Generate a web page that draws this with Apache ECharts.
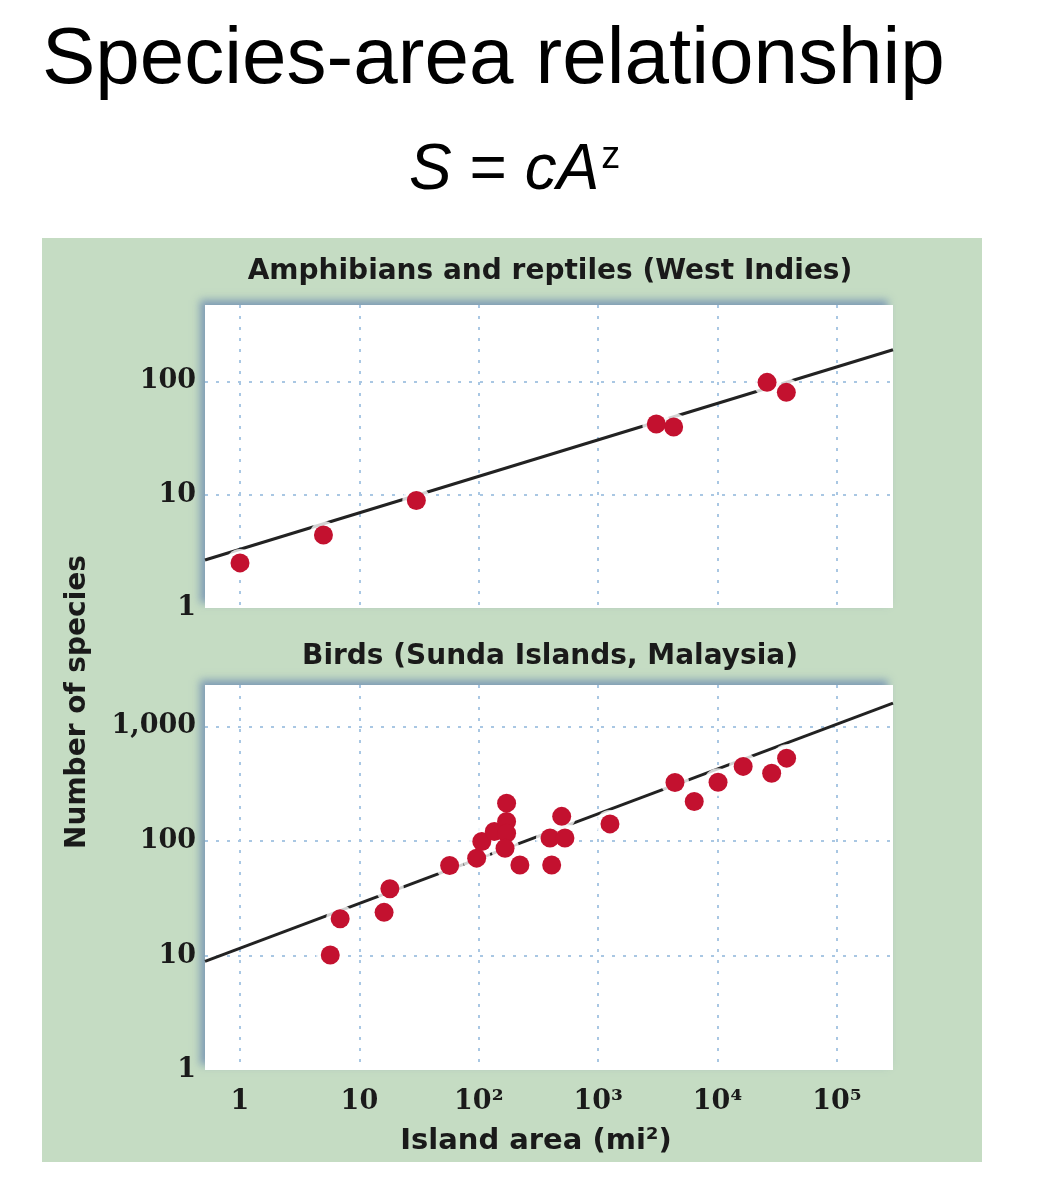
<!DOCTYPE html>
<html>
<head>
<meta charset="utf-8">
<script src="https://cdn.jsdelivr.net/npm/echarts@6/dist/echarts.min.js"></script>
<style>
  html, body { margin: 0; padding: 0; background: #ffffff; }
  #chart { width: 1053px; height: 1200px; }
</style>
</head>
<body>
<div id="chart"></div>
<script>
// ---------- Data ----------
// Top panel: Amphibians and reptiles (West Indies)
var amphibArea    = [1.0, 5.0, 30, 3070, 4290, 26000, 37700];
var amphibSpecies = [2.5, 4.4, 8.9, 42, 39.5, 98, 80];
// fitted line end points (top panel)
var amphibFitArea    = [0.509, 295000];
var amphibFitSpecies = [2.65, 190];

// Bottom panel: Birds (Sunda Islands, Malaysia)
var birdArea    = [5.7, 6.9, 16.1, 18.0, 57, 96, 106, 135, 171, 171, 171, 166, 221, 395, 408, 495, 527, 1256, 4400, 6380, 10100, 16400, 28400, 37900];
var birdSpecies = [10.1, 20.9, 23.8, 38.2, 61, 70.8, 99, 121, 214, 148, 117, 86.5, 61.8, 106, 61.8, 164, 106, 141, 324, 221, 326, 448, 391, 529];
// fitted line end points (bottom panel)
var birdFitArea    = [0.509, 295000];
var birdFitSpecies = [8.87, 1597];

// Tick labels
var xTickValues = [1, 10, 100, 1000, 10000, 100000];
var xTickLabels = ['1', '10', '10\u00B2', '10\u00B3', '10\u2074', '10\u2075'];
var yTickValues = [1, 10, 100, 1000];
var yTickLabels = ['1', '10', '100', '1,000'];

// Texts
var mainTitle = 'Species-area relationship';
var panelTitles = ['Amphibians and reptiles (West Indies)', 'Birds (Sunda Islands, Malaysia)'];
var yAxisTitle = 'Number of species';
var xAxisTitle = 'Island area (mi\u00B2)';

// ---------- Helpers ----------
function zip(a, b) { return a.map(function (v, i) { return [v, b[i]]; }); }
function lookup(values, labels) {
  return function (v) {
    for (var i = 0; i < values.length; i++) {
      if (Math.abs(Math.log10(v) - Math.log10(values[i])) < 1e-6) return labels[i];
    }
    return '';
  };
}

var gridColor = '#a9c7e3';
var red = '#c3112f';
var serifNum = '"DejaVu Serif", "Liberation Serif", serif';
var titleFont = '"DejaVu Sans", "Noto Sans", sans-serif';
var sansMain = '"Liberation Sans", Arial, sans-serif';

function makeX(gridIndex, showLabels) {
  return {
    type: 'log', logBase: 10, gridIndex: gridIndex,
    min: amphibFitArea[0], max: amphibFitArea[1],
    axisLine: { show: false }, axisTick: { show: false },
    splitLine: { show: true, showMinLine: false, showMaxLine: false,
      lineStyle: { color: gridColor, type: [3, 8], width: 2 } },
    axisLabel: { show: showLabels, formatter: lookup(xTickValues, xTickLabels),
      color: '#1a1a1a', fontFamily: serifNum, fontWeight: 'bold', fontSize: 27, margin: 18,
      showMinLabel: false, showMaxLabel: false, hideOverlap: false }
  };
}
function makeY(gridIndex, max) {
  return {
    type: 'log', logBase: 10, gridIndex: gridIndex,
    min: 1, max: max,
    axisLine: { show: false }, axisTick: { show: false },
    splitLine: { show: true, showMinLine: false, showMaxLine: false,
      lineStyle: { color: gridColor, type: [3, 8], width: 2 } },
    axisLabel: { formatter: lookup(yTickValues, yTickLabels),
      color: '#1a1a1a', fontFamily: serifNum, fontWeight: 'bold', fontSize: 27, margin: 9,
      showMaxLabel: false, hideOverlap: false }
  };
}
function gridOpt(top, height) {
  return {
    left: 205, width: 688, top: top, height: height,
    show: true, backgroundColor: '#ffffff', borderWidth: 0,
    shadowColor: 'rgba(110,140,178,0.8)', shadowBlur: 8,
    shadowOffsetX: -5, shadowOffsetY: -5
  };
}

var chart = echarts.init(document.getElementById('chart'), null, { renderer: 'canvas' });

var option = {
  backgroundColor: '#ffffff',
  animation: false,
  title: [
    { text: mainTitle, left: 37, top: 16,
      textStyle: { fontFamily: sansMain, fontWeight: 'normal', fontSize: 80, color: '#000' } },
    { text: '{i|S} = {i|cA}{sup|z}', left: 404, top: 134,
      textStyle: { fontFamily: sansMain, fontWeight: 'normal', fontSize: 64, color: '#000',
        rich: {
          i: { fontStyle: 'italic', fontWeight: 'normal', fontSize: 64, fontFamily: sansMain, color: '#000' },
          sup: { fontSize: 38, fontWeight: 'normal', fontFamily: sansMain, color: '#000', verticalAlign: 'top', padding: [0, 0, 20, 2] }
        } } }
  ],
  graphic: [
    { type: 'rect', z: -100, silent: true,
      shape: { x: 42, y: 238, width: 940, height: 924 },
      style: { fill: '#c5dcc3' } },
    { type: 'text', silent: true, x: 550, y: 272,
      style: { text: panelTitles[0], font: 'bold 28px ' + titleFont, fill: '#1a1a1a', textAlign: 'center', textVerticalAlign: 'middle' } },
    { type: 'text', silent: true, x: 550, y: 657,
      style: { text: panelTitles[1], font: 'bold 28px ' + titleFont, fill: '#1a1a1a', textAlign: 'center', textVerticalAlign: 'middle' } },
    { type: 'text', silent: true, x: 78, y: 702, rotation: Math.PI / 2,
      style: { text: yAxisTitle, font: 'bold 28px ' + titleFont, fill: '#1a1a1a', textAlign: 'center', textVerticalAlign: 'middle' } },
    { type: 'text', silent: true, x: 536, y: 1141,
      style: { text: xAxisTitle, font: 'bold 29px ' + titleFont, fill: '#1a1a1a', textAlign: 'center', textVerticalAlign: 'middle' } }
  ],
  grid: [ gridOpt(305, 303), gridOpt(685, 385) ],
  xAxis: [ makeX(0, false), makeX(1, true) ],
  yAxis: [ makeY(0, 472), makeY(1, 2302) ],
  series: [
    { type: 'line', xAxisIndex: 0, yAxisIndex: 0, z: 2, silent: true, symbol: 'none',
      data: zip(amphibFitArea, amphibFitSpecies), lineStyle: { color: '#222', width: 3 } },
    { type: 'scatter', xAxisIndex: 0, yAxisIndex: 0, z: 3, silent: true, symbolSize: 28,
      data: zip(amphibArea, amphibSpecies), itemStyle: { color: '#ffffff' } },
    { type: 'scatter', xAxisIndex: 0, yAxisIndex: 0, z: 4, symbolSize: 19,
      data: zip(amphibArea, amphibSpecies), itemStyle: { color: red, opacity: 1 } },

    { type: 'line', xAxisIndex: 1, yAxisIndex: 1, z: 2, silent: true, symbol: 'none',
      data: zip(birdFitArea, birdFitSpecies), lineStyle: { color: '#222', width: 3 } },
    { type: 'scatter', xAxisIndex: 1, yAxisIndex: 1, z: 3, silent: true, symbolSize: 28,
      data: zip(birdArea, birdSpecies), itemStyle: { color: '#ffffff' } },
    { type: 'scatter', xAxisIndex: 1, yAxisIndex: 1, z: 4, symbolSize: 19,
      data: zip(birdArea, birdSpecies), itemStyle: { color: red, opacity: 1 } }
  ]
};
chart.setOption(option);
</script>
</body>
</html>
